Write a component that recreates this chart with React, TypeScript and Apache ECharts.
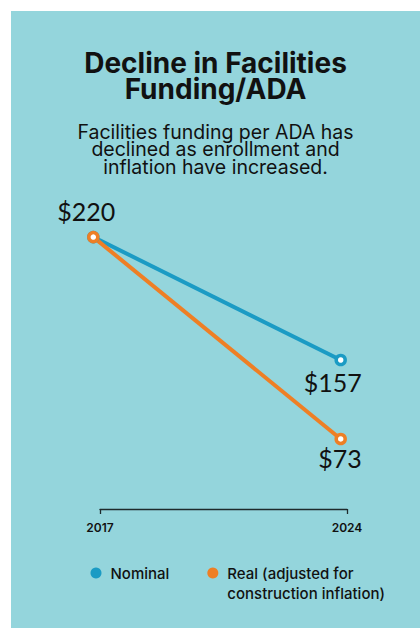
import React, { useEffect, useRef } from "react";
import * as echarts from "echarts";

const years = ["2017", "2024"];
const nominal = [220, 157];
const real = [220, 73];
const seriesNames = ["Nominal", "Real (adjusted for construction inflation)"];
const titleLines = ["Decline in Facilities", "Funding/ADA"];
const subtitleLines = ["Facilities funding per ADA has", "declined as enrollment and", "inflation have increased."];

const BLUE = "#1b9bc4";
const ORANGE = "#ee7f25";
const FONT = "Lato, 'Open Sans', sans-serif";
const FONT2 = "Inter, 'Open Sans', sans-serif";

export default function App() {
  const ref = useRef<HTMLDivElement>(null);
  useEffect(() => {
    if (!ref.current) return;
    const chart = echarts.init(ref.current, null, { renderer: "svg" });
    const labelBase = {
      show: true,
      fontFamily: FONT,
      fontSize: 25,
      color: "#111",
      formatter: (p: any) => "$" + p.value,
    };
    const nominalData = nominal.map((v, i) => ({
      value: v,
      label:
        i === 0
          ? { ...labelBase, position: "top", distance: 7.5, offset: [-7, 0] }
          : { ...labelBase, position: "bottom", distance: 3, align: "right", offset: [21, 0] },
    }));
    const realData = real.map((v, i) => ({
      value: v,
      label:
        i === 0
          ? { show: false }
          : { ...labelBase, position: "bottom", distance: 0, align: "right", offset: [21, 0] },
    }));
    const titleEls = titleLines.map((t, i) => ({
      type: "text",
      x: 215.5,
      y: 62.5 + i * 26.5,
      style: {
        text: t,
        textAlign: "center",
        textVerticalAlign: "middle",
        fontFamily: FONT2,
        fontWeight: "bold",
        fontSize: 28,
        fill: "#111",
      },
    }));
    const subEls = subtitleLines.map((t, i) => ({
      type: "text",
      x: 215.5,
      y: 131.5 + i * 17.75,
      style: {
        text: t,
        textAlign: "center",
        textVerticalAlign: "middle",
        fontFamily: FONT2,
        fontSize: 19.5,
        fill: "#111",
      },
    }));
    chart.setOption({
      animation: false,
      backgroundColor: "#ffffff",
      graphic: [
        { type: "rect", z: -10, shape: { x: 11, y: 11, width: 409, height: 617 }, style: { fill: "#94d5dc" } },
        ...titleEls,
        ...subEls,
      ],
      legend: {
        left: 90.5,
        top: 543,
        padding: 0,
        icon: "circle",
        itemWidth: 11,
        itemHeight: 11,
        itemGap: 38,
        selectedMode: false,
        formatter: (name: string) =>
          name === seriesNames[1] ? "\nReal (adjusted for\nconstruction inflation)" : name,
        textStyle: { fontFamily: FONT2, fontSize: 15, fontWeight: 500, lineHeight: 20, color: "#111", padding: [0, 0, 0, 4] },
        data: [
          { name: seriesNames[0], itemStyle: { color: BLUE, borderWidth: 0 } },
          { name: seriesNames[1], itemStyle: { color: ORANGE, borderWidth: 0 } },
        ],
      },
      grid: [
        { left: 93.3, right: 420 - 340.7, top: 200, bottom: 108 },
        { left: 100, right: 420 - 347, top: 200, bottom: 628 - 509 },
      ],
      xAxis: [
        { type: "category", gridIndex: 0, data: years, boundaryGap: false, show: false },
        {
          type: "category",
          gridIndex: 1,
          data: years,
          boundaryGap: false,
          axisLine: { show: true, lineStyle: { color: "#1e2a2c", width: 1.3 } },
          axisTick: { show: true, length: 5, lineStyle: { color: "#1e2a2c", width: 1.3 } },
          axisLabel: { fontFamily: FONT2, fontSize: 12, fontWeight: 600, color: "#111", margin: 12 },
        },
      ],
      yAxis: [
        { type: "value", gridIndex: 0, min: 75, max: 239, show: false },
        { type: "value", gridIndex: 0, min: 14, max: 247, show: false },
        { type: "value", gridIndex: 1, min: 0, max: 1, show: false },
      ],
      series: [
        {
          name: seriesNames[0],
          type: "line",
          xAxisIndex: 0,
          yAxisIndex: 0,
          data: nominalData,
          symbol: "circle",
          symbolSize: 9,
          showAllSymbol: true,
          silent: true,
          lineStyle: { color: BLUE, width: 4 },
          itemStyle: { color: "#ffffff", borderColor: BLUE, borderWidth: 3.5 },
          emphasis: { disabled: true },
        },
        {
          name: seriesNames[1],
          type: "line",
          xAxisIndex: 0,
          yAxisIndex: 1,
          data: realData,
          symbol: "circle",
          symbolSize: 9,
          showAllSymbol: true,
          silent: true,
          lineStyle: { color: ORANGE, width: 4 },
          itemStyle: { color: "#ffffff", borderColor: ORANGE, borderWidth: 3.5 },
          emphasis: { disabled: true },
        },
      ],
    });
    return () => chart.dispose();
  }, []);
  return (
    <div
      ref={ref}
      style={{ position: "absolute", left: 0, top: 0, width: 420, height: 628 }}
    />
  );
}
